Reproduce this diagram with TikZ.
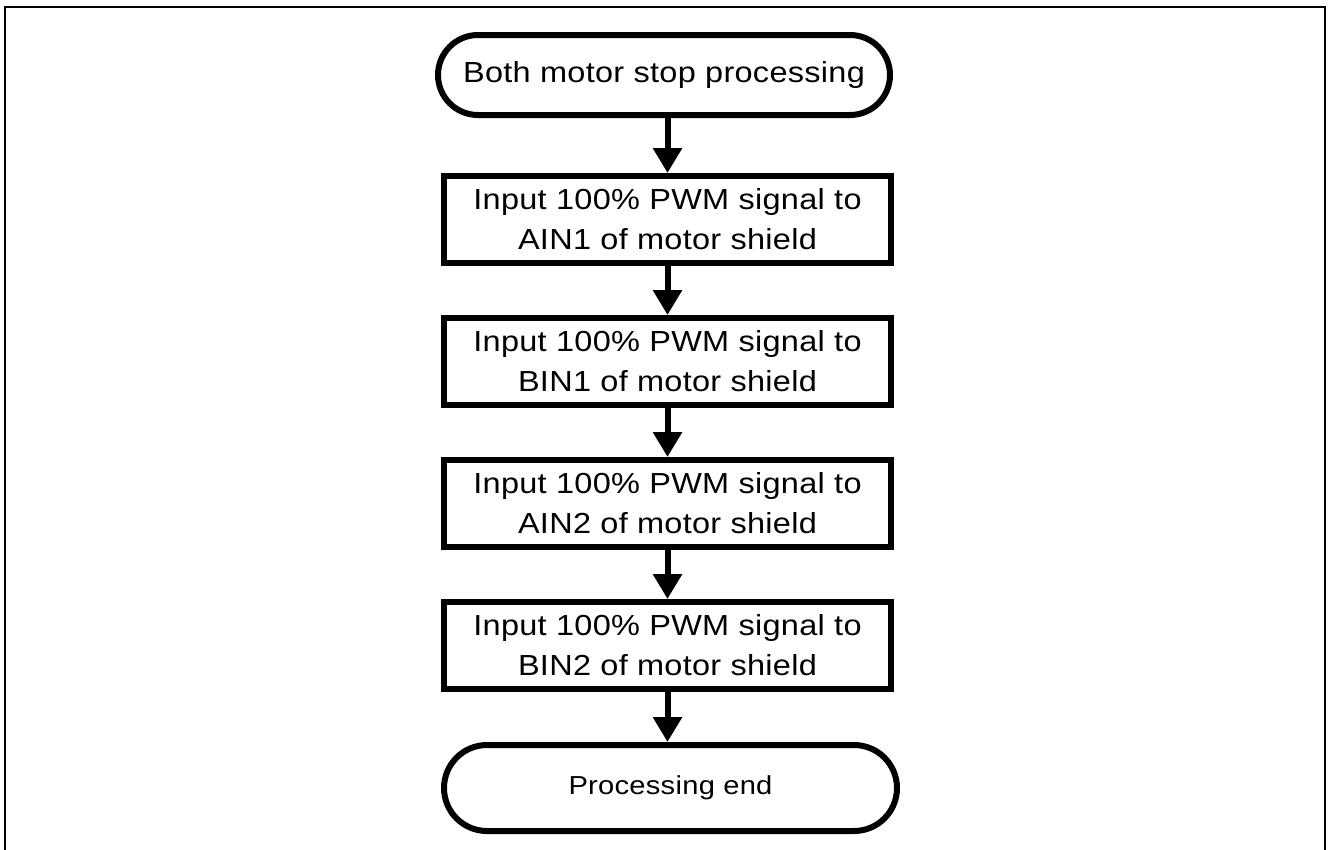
\documentclass[tikz,border=0pt]{standalone}
\usepackage{fontspec}
\setmainfont{Liberation Sans}[FakeStretch=1.12, LetterSpace=1]
\usetikzlibrary{arrows.meta}
\tikzset{
  term/.style={draw, line width=6pt, rounded corners=40pt, inner sep=0pt, align=center,
    font=\fontsize{29}{40}\selectfont},
  proc/.style={draw, line width=6pt, inner sep=0pt, align=center,
    minimum width=447pt, minimum height=87pt, font=\fontsize{29}{40}\selectfont},
  flowarrow/.style={line width=6pt, -{Triangle[width=28pt,length=25pt]}},
}
\begin{document}
\begin{tikzpicture}[x=1pt,y=-1pt]
\useasboundingbox (0,0) rectangle (1328,849);
\draw[line width=2pt] (5,855) -- (5,7) -- (1324.5,7) -- (1324.5,855);
\node[term, minimum width=452pt, minimum height=80pt] (t1) at (664,75) {Both motor stop processing};
\node[proc] (b1) at (667.5,219.5) {Input 100\% PWM signal to\\AIN1 of motor shield};
\node[proc] (b2) at (667.5,361.5) {Input 100\% PWM signal to\\BIN1 of motor shield};
\node[proc] (b3) at (667.5,503.5) {Input 100\% PWM signal to\\AIN2 of motor shield};
\node[proc] (b4) at (667.5,645.5) {Input 100\% PWM signal to\\BIN2 of motor shield};
\node[term, rounded corners=43pt, minimum width=453pt, minimum height=86pt, font=\fontsize{26}{36}\selectfont] (t2) at (670.5,788) {Processing end};
\draw[flowarrow] (t1.south -| b1.north) -- (b1.north);
\draw[flowarrow] (b1) -- (b2);
\draw[flowarrow] (b2) -- (b3);
\draw[flowarrow] (b3) -- (b4);
\draw[flowarrow] (b4.south) -- (t2.north -| b4.south);
\end{tikzpicture}
\end{document}
